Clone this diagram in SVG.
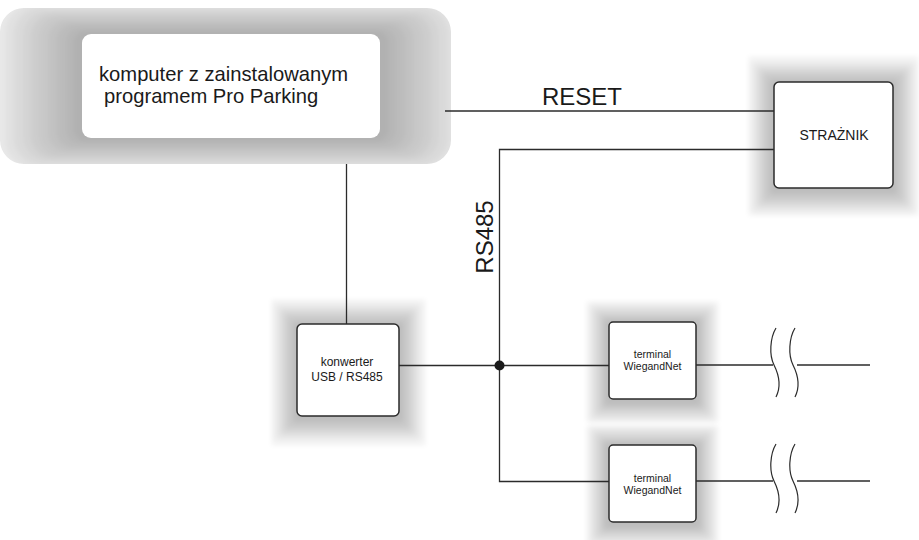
<svg xmlns="http://www.w3.org/2000/svg" width="919" height="540" viewBox="0 0 919 540">
<style>
  .box { fill: #ffffff; stroke: #2b2b2b; stroke-width: 1.5; }
  .h { fill: #000; fill-opacity: 0.04; }
  .p { fill: #000; fill-opacity: 0.032; }
  .soft { filter: url(#soft); }
  .wire { fill: none; stroke: #2b2b2b; stroke-width: 1.3; }
  .brk { fill: none; stroke: #2b2b2b; stroke-width: 1.2; }
  text { font-family: "Liberation Sans", Arial, sans-serif; fill: #1a1a1a; }
  .big { font-size: 24px; }
  .pc { font-size: 20.2px; }
  .mid { font-size: 14px; text-anchor: middle; }
  .conv { font-size: 12px; text-anchor: middle; }
  .term { font-size: 10.5px; text-anchor: middle; }
</style>
<defs>
  <filter id="soft" x="-5%" y="-5%" width="110%" height="110%">
    <feGaussianBlur stdDeviation="2"/>
  </filter>
  <clipPath id="pcclip">
    <rect x="0" y="8" width="451" height="156" rx="24"/>
  </clipPath>
</defs>

<g id="computer">
  <g clip-path="url(#pcclip)">
    <rect x="0" y="8" width="451" height="156" fill="#efefef"/>
    <g class="soft">
      <rect class="p" x="73.5" y="30.7" width="315" height="110.6" rx="12"/>
      <rect class="p" x="65" y="27.4" width="332" height="117.2" rx="14"/>
      <rect class="p" x="56.5" y="24.1" width="349" height="123.8" rx="16"/>
      <rect class="p" x="48" y="20.8" width="366" height="130.4" rx="18"/>
      <rect class="p" x="39.5" y="17.5" width="383" height="137" rx="20"/>
      <rect class="p" x="31" y="14.2" width="400" height="143.6" rx="22"/>
      <rect class="p" x="22.5" y="10.9" width="417" height="150.2" rx="24"/>
      <rect class="p" x="14" y="7.6" width="434" height="156.8" rx="26"/>
      <rect class="p" x="5.5" y="4.3" width="451" height="163.4" rx="28"/>
      <rect class="p" x="-3" y="1" width="468" height="170" rx="30"/>
    </g>
  </g>
  <rect x="82" y="34" width="298" height="104" rx="9" fill="#ffffff"/>
  <text class="pc" x="99" y="80.5">komputer z zainstalowanym<tspan x="104" y="103">programem Pro Parking</tspan></text>
</g>

<g id="straznik">
  <g class="soft">
    <rect class="h" x="771" y="81" width="125" height="112" rx="4"/>
    <rect class="h" x="768" y="78" width="131" height="118" rx="4"/>
    <rect class="h" x="764" y="74" width="139" height="126" rx="4"/>
    <rect class="h" x="761" y="71" width="145" height="132" rx="4"/>
    <rect class="h" x="758" y="68" width="151" height="138" rx="4"/>
    <rect class="h" x="755" y="65" width="157" height="144" rx="4"/>
    <rect class="h" x="751" y="61" width="165" height="152" rx="4"/>
    <rect class="h" x="748" y="56" width="171" height="160" rx="4"/>
  </g>
  <rect class="box" x="774" y="82" width="119" height="106" rx="5"/>
  <text class="mid" x="834" y="139.5">STRAŻNIK</text>
</g>

<g id="konwerter">
  <g class="soft">
    <rect class="h" x="294" y="323" width="108" height="98" rx="4"/>
    <rect class="h" x="291" y="320" width="114" height="104" rx="4"/>
    <rect class="h" x="287" y="316" width="122" height="112" rx="4"/>
    <rect class="h" x="284" y="313" width="128" height="118" rx="4"/>
    <rect class="h" x="281" y="310" width="134" height="124" rx="4"/>
    <rect class="h" x="278" y="307" width="140" height="130" rx="4"/>
    <rect class="h" x="274" y="303" width="148" height="138" rx="4"/>
    <rect class="h" x="271" y="299" width="155" height="147" rx="4"/>
  </g>
  <rect class="box" x="297" y="324" width="102" height="92" rx="5"/>
  <text class="conv" x="347" y="366">konwerter</text>
  <text class="conv" x="347" y="380.5">USB / RS485</text>
</g>

<g id="terminal1">
  <g class="soft">
    <rect class="h" x="606" y="321" width="93" height="83" rx="4"/>
    <rect class="h" x="603" y="318" width="99" height="89" rx="4"/>
    <rect class="h" x="601" y="316" width="103" height="93" rx="4"/>
    <rect class="h" x="598" y="313" width="109" height="99" rx="4"/>
    <rect class="h" x="595" y="310" width="115" height="105" rx="4"/>
    <rect class="h" x="592" y="307" width="121" height="111" rx="4"/>
    <rect class="h" x="589" y="304" width="127" height="117" rx="4"/>
    <rect class="h" x="586" y="301" width="133" height="122" rx="4"/>
  </g>
  <rect class="box" x="609" y="322" width="87" height="77" rx="4"/>
  <text class="term" x="652.5" y="358">terminal</text>
  <text class="term" x="652.5" y="370">WiegandNet</text>
</g>

<g id="terminal2">
  <g class="soft">
    <rect class="h" x="606" y="444" width="93" height="83" rx="4"/>
    <rect class="h" x="603" y="441" width="99" height="89" rx="4"/>
    <rect class="h" x="601" y="439" width="103" height="93" rx="4"/>
    <rect class="h" x="598" y="436" width="109" height="99" rx="4"/>
    <rect class="h" x="595" y="433" width="115" height="105" rx="4"/>
    <rect class="h" x="592" y="430" width="121" height="111" rx="4"/>
    <rect class="h" x="589" y="427" width="127" height="117" rx="4"/>
    <rect class="h" x="586" y="425" width="133" height="123" rx="4"/>
  </g>
  <rect class="box" x="609" y="445" width="87" height="77" rx="4"/>
  <text class="term" x="652.5" y="481.5">terminal</text>
  <text class="term" x="652.5" y="493.5">WiegandNet</text>
</g>

<g id="connectors">
  <line class="wire" x1="346.5" y1="164" x2="346.5" y2="324"/>
  <line class="wire" x1="445" y1="111" x2="774" y2="111"/>
  <path class="wire" d="M774 149.5 H499.5 V481.5 H609"/>
  <line class="wire" x1="399" y1="365.5" x2="609" y2="365.5"/>
  <circle cx="499.5" cy="365.5" r="5" fill="#1a1a1a"/>
  <line class="wire" x1="696" y1="365" x2="773" y2="365"/>
  <line class="wire" x1="797" y1="365" x2="870" y2="365"/>
  <line class="wire" x1="696" y1="481" x2="773" y2="481"/>
  <line class="wire" x1="797" y1="481" x2="870" y2="481"/>
  <path class="brk" d="M776 328 C770 338, 769 355, 774 365 C779 375, 781 387, 776 397"/>
  <path class="brk" d="M795 328 C789 338, 788 355, 793 365 C798 375, 800 387, 795 397"/>
  <path class="brk" d="M776 444 C770 454, 769 471, 774 481 C779 491, 781 503, 776 513"/>
  <path class="brk" d="M795 444 C789 454, 788 471, 793 481 C798 491, 800 503, 795 513"/>
  <text class="big" x="542" y="105">RESET</text>
  <text class="big" text-anchor="middle" transform="translate(493 237) rotate(-90)">RS485</text>
</g>
</svg>
